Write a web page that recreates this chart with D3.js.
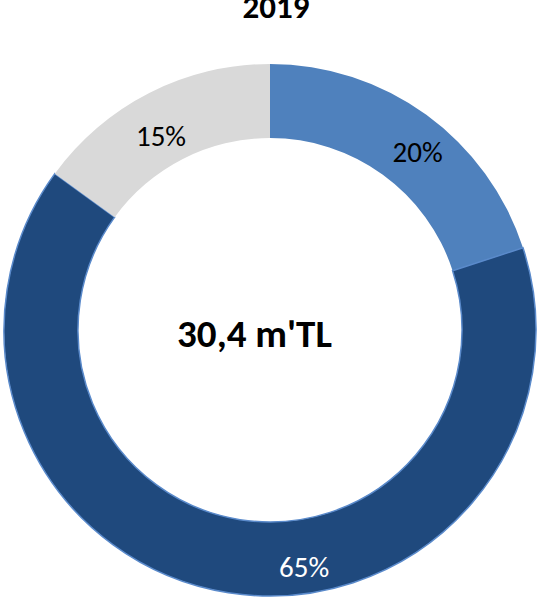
<!DOCTYPE html>
<html>
<head>
<meta charset="utf-8">
<script src="https://cdn.jsdelivr.net/npm/d3@7"></script>
<style>
  html, body { margin: 0; padding: 0; background: #fff; }
  svg { display: block; }
</style>
</head>
<body>
<script>
// Share of the 2019 total, by segment
const year = "2019";
const total = "30,4 m'TL";
const segments = ["A", "B", "C"];
const shares = [20, 65, 15];
const labels = ["20%", "65%", "15%"];

// Presentation
const fills = ["#4F81BD", "#1F497D", "#D9D9D9"];
const labelColors = ["#000000", "#ffffff", "#000000"];
const edgeColors = ["none", "#5A8ACB", "none"];
// hand placement of each percentage baseline, relative to the slice centroid
const labelNudge = [[13, 17], [70, 21], [-5, 20]];

const W = 538, H = 598;
const cx = 270, cy = 330, rOuter = 266, rInner = 192;
const font = "Calibri, Carlito, Lato, sans-serif";

const svg = d3.select("body").append("svg").attr("width", W).attr("height", H);

svg.append("text")
  .attr("x", 276).attr("y", 18)
  .attr("text-anchor", "middle")
  .attr("font-family", font).attr("font-weight", "bold")
  .attr("font-size", 33).attr("fill", "#000")
  .text(year);

const pie = d3.pie().sort(null).value(d => d.v);
const arcs = pie(segments.map((s, i) => ({ s, v: shares[i], i })));
const arc = d3.arc().innerRadius(rInner).outerRadius(rOuter);

const g = svg.append("g").attr("transform", `translate(${cx},${cy})`);

g.selectAll("path.slice").data(arcs).join("path")
  .attr("class", "slice")
  .attr("d", arc)
  .attr("fill", d => fills[d.data.i])
  .attr("stroke", d => edgeColors[d.data.i])
  .attr("stroke-width", 1.5);

g.selectAll("text.pct").data(arcs).join("text")
  .attr("class", "pct")
  .attr("x", d => arc.centroid(d)[0] + labelNudge[d.data.i][0])
  .attr("y", d => arc.centroid(d)[1] + labelNudge[d.data.i][1])
  .attr("text-anchor", "middle")
  .attr("font-family", font)
  .attr("font-size", 29)
  .attr("fill", d => labelColors[d.data.i])
  .text(d => labels[d.data.i]);

svg.append("text")
  .attr("x", 254.5).attr("y", 347)
  .attr("text-anchor", "middle")
  .attr("font-family", font).attr("font-weight", "bold")
  .attr("font-size", 39).attr("fill", "#000")
  .text(total);
</script>
</body>
</html>
